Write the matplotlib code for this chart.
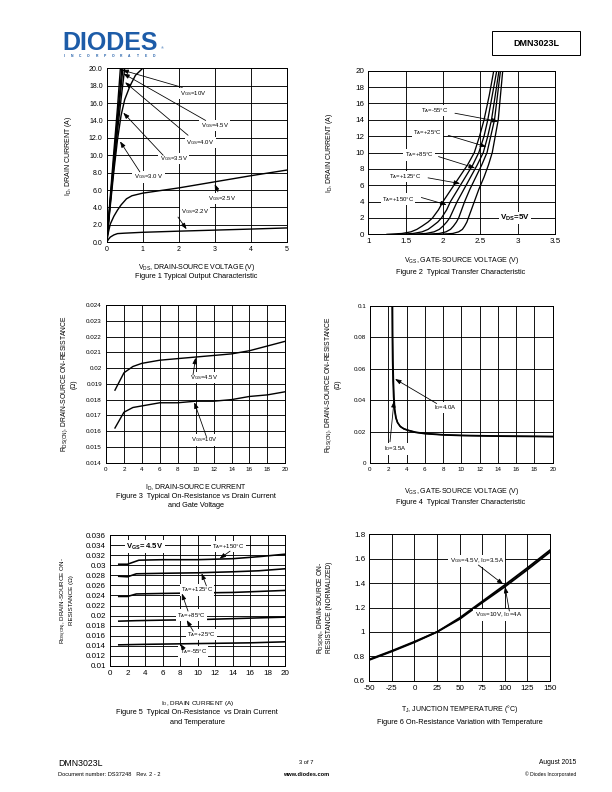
import matplotlib
matplotlib.use('Agg')
import numpy as np
import matplotlib.pyplot as plt
from matplotlib.ticker import FuncFormatter
from matplotlib.patches import Rectangle
from matplotlib.lines import Line2D

plt.rcParams['font.family'] = ['Liberation Sans', 'DejaVu Sans']
plt.rcParams['mathtext.fontset'] = 'custom'
plt.rcParams['mathtext.rm'] = 'Liberation Sans'
plt.rcParams['mathtext.it'] = 'Liberation Sans:italic'
plt.rcParams['mathtext.bf'] = 'Liberation Sans:bold'
plt.rcParams['mathtext.default'] = 'regular'

# ---- Figure 1: output characteristic (VDS, ID) ----
f1_vgs10_v = [0, 0.1, 0.2, 0.3, 0.38]
f1_vgs10_i = [0, 5.3, 10.5, 15.5, 20.0]
f1_vgs45_v = [0, 0.1, 0.2, 0.3, 0.42]
f1_vgs45_i = [0, 4.9, 9.7, 14.4, 20.0]
f1_vgs40_v = [0, 0.1, 0.2, 0.3, 0.45]
f1_vgs40_i = [0, 4.7, 9.3, 13.7, 20.0]
f1_vgs35_v = [0, 0.1, 0.2, 0.3, 0.4, 0.5]
f1_vgs35_i = [0, 4.5, 8.8, 12.8, 16.5, 20.0]
f1_vgs30_v = [0, 0.1, 0.2, 0.3, 0.4, 0.5, 0.65, 0.8, 1.0]
f1_vgs30_i = [0, 4.2, 8.2, 11.8, 14.6, 16.4, 18.0, 19.2, 20.0]
f1_vgs25_v = [0, 0.05, 0.1, 0.2, 0.3, 0.4, 0.55, 0.7, 1, 2, 3, 4, 5]
f1_vgs25_i = [0, 1.2, 2.1, 3.0, 3.7, 4.3, 5.0, 5.35, 5.65, 6.25, 6.95, 7.65, 8.3]
f1_vgs22_v = [0, 0.05, 0.1, 0.2, 0.3, 0.5, 1, 2, 3, 4, 5]
f1_vgs22_i = [0, 0.35, 0.6, 0.85, 1.0, 1.05, 1.15, 1.28, 1.4, 1.52, 1.65]

# ---- Figure 2: transfer characteristic (ID levels, VGS per temperature) ----
f2_id = [0, 0.1, 0.3, 0.6, 1, 1.5, 2, 3, 4, 5.5, 7, 8.5, 10, 12, 14, 17, 20]
f2_vgs_150 = [1.25, 1.45, 1.57, 1.65, 1.72, 1.80, 1.86, 1.94, 2.00, 2.11, 2.22, 2.33,
              2.42, 2.49, 2.55, 2.62, 2.68]
f2_vgs_125 = [1.40, 1.60, 1.72, 1.80, 1.86, 1.93, 1.98, 2.05, 2.10, 2.20, 2.30, 2.40,
              2.48, 2.55, 2.60, 2.66, 2.72]
f2_vgs_85 = [1.55, 1.77, 1.88, 1.95, 2.00, 2.05, 2.09, 2.14, 2.19, 2.28, 2.37, 2.46,
             2.54, 2.60, 2.65, 2.70, 2.75]
f2_vgs_25 = [1.75, 1.95, 2.04, 2.10, 2.14, 2.18, 2.21, 2.25, 2.29, 2.36, 2.44, 2.52,
             2.59, 2.64, 2.69, 2.73, 2.77]
f2_vgs_m55 = [1.95, 2.13, 2.21, 2.26, 2.29, 2.32, 2.34, 2.38, 2.42, 2.48, 2.55, 2.61,
              2.66, 2.70, 2.74, 2.77, 2.80]

# ---- Figure 3: on-resistance vs drain current ----
f3_id = [1, 2, 3, 4, 6, 8, 10, 12, 14, 16, 18, 20]
f3_r45 = [0.0186, 0.0197, 0.0201, 0.0203, 0.0205, 0.0206, 0.0207, 0.0208,
          0.0209, 0.0211, 0.0214, 0.0217]
f3_r10 = [0.0162, 0.0172, 0.0175, 0.0176, 0.0178, 0.0178, 0.0179, 0.0179,
          0.0180, 0.0182, 0.0183, 0.0185]

# ---- Figure 4: on-resistance vs gate voltage ----
f4_vgs_35 = [2.42, 2.44, 2.47, 2.52, 2.58, 2.68, 2.82, 3.0, 3.3, 3.7, 4.2, 5, 6, 8, 10, 14, 20]
f4_vgs_40 = [2.47, 2.49, 2.52, 2.57, 2.63, 2.72, 2.86, 3.03, 3.33, 3.72, 4.22, 5, 6, 8, 10, 14, 20]
f4_r_35 = [0.1, 0.08, 0.065, 0.052, 0.042, 0.034, 0.029, 0.026, 0.0235, 0.022,
           0.021, 0.0198, 0.019, 0.0182, 0.0178, 0.0174, 0.0171]
f4_r_40 = [0.1, 0.08, 0.065, 0.052, 0.042, 0.034, 0.0288, 0.0258, 0.0233, 0.0218,
           0.0208, 0.0196, 0.0188, 0.018, 0.0176, 0.0172, 0.0169]

# ---- Figure 5: on-resistance vs drain current and temperature ----
f5_id_150 = [1, 2, 3.3, 6, 10, 14, 17, 20]
f5_r_150 = [0.0302, 0.0302, 0.0310, 0.0311, 0.0311, 0.0313, 0.0317, 0.0322]
f5_id_125 = [1, 2, 3, 6, 10, 14, 17, 20]
f5_r_125 = [0.0278, 0.0277, 0.0283, 0.0284, 0.0285, 0.0287, 0.0289, 0.0293]
f5_id_85 = [1, 2, 3, 6, 10, 14, 20]
f5_r_85 = [0.0238, 0.0238, 0.0243, 0.0244, 0.0245, 0.0246, 0.0250]
f5_id_25 = [1, 3, 6, 10, 14, 20]
f5_r_25 = [0.0189, 0.0190, 0.0191, 0.0192, 0.0194, 0.0197]
f5_id_m55 = [1, 4, 8, 12, 16, 20]
f5_r_m55 = [0.0142, 0.0143, 0.0144, 0.0145, 0.0146, 0.0148]

# ---- Figure 6: normalized on-resistance vs junction temperature ----
f6_tj = [-50, -25, 0, 25, 50, 75, 100, 125, 150]
f6_r45 = [0.77, 0.84, 0.915, 1.0, 1.115, 1.25, 1.385, 1.525, 1.67]
f6_r10 = [0.775, 0.845, 0.92, 1.0, 1.105, 1.24, 1.37, 1.51, 1.655]

W, H = 612, 792
fig = plt.figure(figsize=(8.5, 11), dpi=72)
LBL = 7.0   # axis label size
CAP = 7.4   # caption size
ANN = 6.0   # annotation size


def px_axes(x0, y0, x1, y1):
    return fig.add_axes([x0 / W, 1 - y1 / H, (x1 - x0) / W, (y1 - y0) / H])


def fmt_g(v, _):
    return '%g' % round(v, 4)


def style(ax, xticks, yticks, size, yfmt=fmt_g):
    ax.set_xlim(xticks[0], xticks[-1])
    ax.set_ylim(yticks[0], yticks[-1])
    ax.set_xticks(xticks)
    ax.set_yticks(yticks)
    ax.xaxis.set_major_formatter(FuncFormatter(fmt_g))
    ax.yaxis.set_major_formatter(FuncFormatter(yfmt))
    ax.grid(True, color='black', lw=0.9)
    ax.tick_params(length=0, labelsize=size, pad=4)
    for s in ax.spines.values():
        s.set_linewidth(1.0)


def label(ax, text, xy, size=ANN, weight='normal'):
    ax.text(xy[0], xy[1], text, fontsize=size, weight=weight, ha='center', va='center',
            bbox=dict(fc='white', ec='none', pad=1.2), zorder=5)


def arrow(ax, start, tip):
    ax.annotate('', xy=tip, xytext=start, zorder=6,
                arrowprops=dict(arrowstyle='-|>,head_length=0.5,head_width=0.18',
                                lw=0.8, color='black', shrinkA=0, shrinkB=0))


def caption(x, y, text, size=CAP):
    fig.text(x / W, 1 - y / H, text, fontsize=size, ha='center', va='center')


# Figure 1
ax1 = px_axes(106.7, 68.3, 286.7, 242.3)
style(ax1, np.arange(0, 6), np.arange(0, 21, 2), 7, yfmt=lambda v, _: '%.1f' % v)
for xs, ys in [(f1_vgs10_v, f1_vgs10_i), (f1_vgs45_v, f1_vgs45_i), (f1_vgs40_v, f1_vgs40_i),
               (f1_vgs35_v, f1_vgs35_i), (f1_vgs30_v, f1_vgs30_i), (f1_vgs25_v, f1_vgs25_i),
               (f1_vgs22_v, f1_vgs22_i)]:
    ax1.plot(xs, ys, color='black', lw=1.4)
label(ax1, 'V$_{GS}$=10V', (2.4, 17.1))
arrow(ax1, (2.1, 17.8), (0.43, 19.8))
label(ax1, 'V$_{GS}$=4.5V', (3.0, 13.4))
arrow(ax1, (2.75, 14.0), (0.46, 19.4))
label(ax1, 'V$_{GS}$=4.0V', (2.6, 11.5))
arrow(ax1, (2.26, 12.3), (0.51, 18.4))
label(ax1, 'V$_{GS}$=3.5V', (1.86, 9.65))
arrow(ax1, (1.57, 10.0), (0.46, 14.9))
label(ax1, 'V$_{GS}$=3.0 V', (1.16, 7.5))
arrow(ax1, (0.92, 8.1), (0.37, 11.6))
label(ax1, 'V$_{GS}$=2.5V', (3.2, 5.0))
arrow(ax1, (3.09, 5.8), (3.0, 6.7))
label(ax1, 'V$_{GS}$=2.2V', (2.45, 3.55))
arrow(ax1, (1.98, 2.9), (2.22, 1.5))
ax1.set_ylabel('I$_D$, DRAIN CURRENT (A)', fontsize=LBL)
ax1.yaxis.set_label_coords(-0.18, 0.5)
ax1.set_xlabel('V$_{DS}$, DRAIN-SOURCE VOLTAGE (V)', fontsize=LBL)
ax1.xaxis.set_label_coords(0.5, -0.113)
caption(196, 277, 'Figure 1 Typical Output Characteristic')

# Figure 2
ax2 = px_axes(368.3, 70.7, 555, 234.3)
style(ax2, np.arange(1, 3.51, 0.5), np.arange(0, 21, 2), 8)
for vs in [f2_vgs_150, f2_vgs_125, f2_vgs_85, f2_vgs_25, f2_vgs_m55]:
    ax2.plot(vs, f2_id, color='black', lw=1.3)
label(ax2, 'T$_A$=-55°C', (1.89, 15.1))
arrow(ax2, (2.16, 14.8), (2.74, 13.8))
label(ax2, 'T$_A$=+25°C', (1.79, 12.4))
arrow(ax2, (2.07, 12.1), (2.58, 10.7))
label(ax2, 'T$_A$=+85°C', (1.68, 9.7))
arrow(ax2, (1.94, 9.5), (2.43, 8.1))
label(ax2, 'T$_A$=+125°C', (1.49, 7.1))
arrow(ax2, (1.80, 6.9), (2.23, 6.2))
label(ax2, 'T$_A$=+150°C', (1.40, 4.3))
arrow(ax2, (1.71, 4.5), (2.05, 3.6))
label(ax2, 'V$_{DS}$=5V', (2.96, 2.0), size=8, weight='bold')
ax2.set_ylabel('I$_D$, DRAIN CURRENT (A)', fontsize=LBL)
ax2.yaxis.set_label_coords(-0.178, 0.5)
ax2.set_xlabel('V$_{GS}$, GATE-SOURCE VOLTAGE (V)', fontsize=LBL)
ax2.xaxis.set_label_coords(0.5, -0.127)
caption(461, 273, 'Figure 2  Typical Transfer Characteristic')

# Figure 3
ax3 = px_axes(106, 305, 285.3, 462.7)
style(ax3, np.arange(0, 21, 2), np.linspace(0.014, 0.024, 11), 6.3)
ax3.plot(f3_id, f3_r45, color='black', lw=1.4)
ax3.plot(f3_id, f3_r10, color='black', lw=1.4)
label(ax3, 'V$_{GS}$=4.5V', (10.9, 0.0194))
arrow(ax3, (9.7, 0.01956), (10.0, 0.02066))
label(ax3, 'V$_{GS}$=10V', (10.9, 0.01544))
arrow(ax3, (11.2, 0.01565), (9.85, 0.01783))
ax3.set_ylabel('R$_{DS(ON)}$, DRAIN-SOURCE ON-RESISTANCE\n(Ω)', fontsize=6.8, linespacing=1.25)
ax3.yaxis.set_label_coords(-0.156, 0.5)
ax3.set_xlabel('I$_D$, DRAIN-SOURCE CURRENT', fontsize=LBL)
ax3.xaxis.set_label_coords(0.5, -0.129)
caption(196, 496, 'Figure 3  Typical On-Resistance vs Drain Current')
caption(196, 506, 'and Gate Voltage')

# Figure 4
ax4 = px_axes(370, 306, 552.7, 463.3)
style(ax4, np.arange(0, 21, 2), np.linspace(0, 0.1, 6), 6.3)
ax4.plot(f4_vgs_35, f4_r_35, color='black', lw=1.5)
ax4.plot(f4_vgs_40, f4_r_40, color='black', lw=1.5)
label(ax4, 'I$_D$=4.0A', (8.2, 0.0353))
arrow(ax4, (7.3, 0.038), (2.74, 0.0536))
label(ax4, 'I$_D$=3.5A', (2.82, 0.0091))
arrow(ax4, (2.19, 0.0137), (2.63, 0.0396))
ax4.set_ylabel('R$_{DS(ON)}$, DRAIN-SOURCE ON-RESISTANCE\n(Ω)', fontsize=6.8, linespacing=1.25)
ax4.yaxis.set_label_coords(-0.153, 0.5)
ax4.set_xlabel('V$_{GS}$, GATE-SOURCE VOLTAGE (V)', fontsize=LBL)
ax4.xaxis.set_label_coords(0.5, -0.144)
caption(461, 502, 'Figure 4  Typical Transfer Characteristic')

# Figure 5
ax5 = px_axes(110, 535, 285.3, 666)
style(ax5, np.arange(0, 21, 2), np.linspace(0.01, 0.036, 14), 8)
for xs, ys in [(f5_id_150, f5_r_150), (f5_id_125, f5_r_125), (f5_id_85, f5_r_85),
               (f5_id_25, f5_r_25), (f5_id_m55, f5_r_m55)]:
    ax5.plot(xs, ys, color='black', lw=1.6)
label(ax5, 'V$_{GS}$= 4.5V', (4.0, 0.0337), size=7.6, weight='bold')
label(ax5, 'T$_A$=+150°C', (13.5, 0.0337))
arrow(ax5, (13.7, 0.0328), (12.5, 0.0313))
label(ax5, 'T$_A$=+125°C', (9.9, 0.0251))
arrow(ax5, (11.0, 0.0259), (10.45, 0.0284))
label(ax5, 'T$_A$=+85°C', (9.3, 0.0201))
arrow(ax5, (8.9, 0.0209), (8.2, 0.0244))
label(ax5, 'T$_A$=+25°C', (10.45, 0.0163))
arrow(ax5, (9.5, 0.0169), (8.75, 0.0191))
label(ax5, 'T$_A$=-55°C', (9.5, 0.0128))
arrow(ax5, (8.4, 0.0134), (8.0, 0.0144))
ax5.set_ylabel('R$_{DS(ON)}$, DRAIN-SOURCE ON-\nRESISTANCE (Ω)', fontsize=6.2, linespacing=1.1)
ax5.yaxis.set_label_coords(-0.205, 0.5)
ax5.set_xlabel('I$_D$, DRAIN CURRENT (A)', fontsize=6.4)
ax5.xaxis.set_label_coords(0.5, -0.25)
caption(197, 712, 'Figure 5  Typical On-Resistance  vs Drain Current')
caption(197, 722, 'and Temperature')

# Figure 6
ax6 = px_axes(369.3, 534.3, 550, 680.7)
style(ax6, np.arange(-50, 151, 25), np.linspace(0.6, 1.8, 7), 8)
ax6.plot(f6_tj, f6_r45, color='black', lw=1.8)
ax6.plot(f6_tj, f6_r10, color='black', lw=1.8)
label(ax6, 'V$_{GS}$=4.5V, I$_D$=3.5A', (68.9, 1.581), size=6.2)
arrow(ax6, (70.7, 1.548), (98.3, 1.39))
label(ax6, 'V$_{GS}$=10V, I$_D$=4A', (92.8, 1.139), size=6.2)
arrow(ax6, (105, 1.171), (100.2, 1.37))
ax6.set_ylabel('R$_{DS(ON)}$, DRAIN-SOURCE ON-\nRESISTANCE (NORMALIZED)', fontsize=6.6, linespacing=1.1)
ax6.yaxis.set_label_coords(-0.2, 0.5)
ax6.set_xlabel('T$_J$, JUNCTION TEMPERATURE (°C)', fontsize=LBL)
ax6.xaxis.set_label_coords(0.5, -0.152)
caption(460, 722, 'Figure 6 On-Resistance Variation with Temperature')

# header
fig.text(62 / W, 1 - 50 / H, 'DIODES', fontsize=25, weight='bold', color='#1d5ca8', va='baseline')
fig.add_artist(Line2D([62 / W, 160 / W], [1 - 41 / H] * 2, color='white', lw=1.0))
fig.text(161 / W, 1 - 49 / H, '®', fontsize=4, color='#1d5ca8', va='baseline')
for k, ch in enumerate('INCORPORATED'):
    fig.text((64 + k * 8.2) / W, 1 - 57 / H, ch, fontsize=3.4, weight='bold',
             color='#1d5ca8', va='baseline', ha='center')
fig.add_artist(Rectangle((492 / W, 1 - 55 / H), 88 / W, 24 / H, transform=fig.transFigure,
                         fill=False, lw=1.0, ec='black'))
fig.text(536 / W, 1 - 43 / H, 'DMN3023L', fontsize=9, weight='bold', ha='center', va='center')

# footer
fig.text(58 / W, 1 - 763 / H, 'DMN3023L', fontsize=8.8, va='center')
fig.text(58 / W, 1 - 775 / H, 'Document number: DS37248   Rev. 2 - 2', fontsize=5.6, va='center')
fig.text(306 / W, 1 - 763 / H, '3 of 7', fontsize=5.8, ha='center', va='center')
fig.text(306 / W, 1 - 774 / H, 'www.diodes.com', fontsize=5.6, weight='bold', ha='center', va='center')
fig.text(576 / W, 1 - 763 / H, 'August 2015', fontsize=6.6, ha='right', va='center')
fig.text(576 / W, 1 - 774 / H, '© Diodes Incorporated', fontsize=5, ha='right', va='center')

fig.savefig('out.png', dpi=72)
